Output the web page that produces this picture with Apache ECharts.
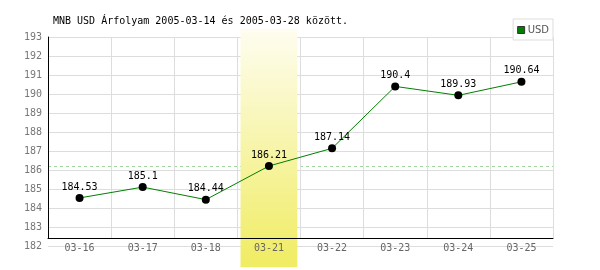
<!DOCTYPE html>
<html>
<head>
<meta charset="utf-8">
<script src="https://cdn.jsdelivr.net/npm/echarts@6/dist/echarts.min.js"></script>
<style>html,body{margin:0;padding:0;background:#fff}#c{width:600px;height:270px}</style>
</head>
<body>
<div id="c"></div>
<script>
var titleText = 'MNB USD Árfolyam 2005-03-14 és 2005-03-28 között.';
var seriesName = 'USD';
var categories = ['03-16', '03-17', '03-18', '03-21', '03-22', '03-23', '03-24', '03-25'];
var values = [184.53, 185.1, 184.44, 186.21, 187.14, 190.4, 189.93, 190.64];
var highlightCategory = '03-21';
var referenceValue = 186.21;
var yMin = 182, yMax = 193, yStep = 1;

var bandData = categories.map(function (c) { return c === highlightCategory ? 1 : '-'; });
var mono = 'DejaVu Sans Mono';
var L = 48, W = 505;

var chart = echarts.init(document.getElementById('c'), null, {renderer: 'canvas'});
chart.setOption({
  animation: false,
  backgroundColor: '#fff',
  title: {
    text: titleText, left: 53, top: 16, padding: 0,
    textStyle: {fontFamily: mono, fontSize: 10, fontWeight: 'normal', color: '#000'}
  },
  legend: {
    data: [{name: seriesName, icon: 'rect'}],
    right: 47, top: 19, padding: [6, 4, 5, 4], itemWidth: 7, itemHeight: 7, itemGap: 4,
    borderColor: '#ddd', borderWidth: 1, backgroundColor: '#fff', z: 10,
    itemStyle: {color: '#008000', borderColor: '#333', borderWidth: 1},
    textStyle: {fontFamily: 'DejaVu Sans', fontSize: 10, color: '#555', padding: [0, 0, 0, -2]}
  },
  grid: [
    {left: L, width: W, top: 37, height: 209},
    {left: L, width: W, top: 37, height: 201},
    {left: L, width: W, top: 29, height: 238}
  ],
  xAxis: [
    {gridIndex: 0, type: 'category', data: categories, axisLine: {show: false}, axisTick: {show: false}, axisLabel: {show: false}, splitLine: {show: false}},
    {gridIndex: 1, type: 'category', data: categories, z: 6,
      axisLine: {show: true, lineStyle: {color: '#000', width: 1}}, axisTick: {show: false},
      axisLabel: {show: true, margin: 5, fontFamily: mono, fontSize: 10, color: '#666'},
      splitLine: {show: true, lineStyle: {color: '#ddd', width: 1}}},
    {gridIndex: 2, type: 'category', data: categories, show: false}
  ],
  yAxis: [
    {gridIndex: 0, type: 'value', min: yMin, max: yMax, interval: yStep, z: 0,
      axisLine: {show: false}, axisTick: {show: false},
      axisLabel: {margin: 6, fontFamily: mono, fontSize: 10, color: '#777'},
      splitLine: {show: true, lineStyle: {color: '#ddd', width: 1}}},
    {gridIndex: 1, type: 'value', min: 0, max: 1, z: 6,
      axisLine: {show: true, lineStyle: {color: '#000', width: 1}}, axisTick: {show: false},
      axisLabel: {show: false}, splitLine: {show: false}},
    {gridIndex: 2, type: 'value', min: 0, max: 1, show: false}
  ],
  series: [
    {
      type: 'bar', xAxisIndex: 2, yAxisIndex: 2, data: bandData, barWidth: '90%', z: 1, silent: true,
      itemStyle: {color: new echarts.graphic.LinearGradient(0, 0, 0, 1, [
        {offset: 0, color: '#fefdf0'}, {offset: 1, color: '#f0ec62'}])}
    },
    {
      name: seriesName, type: 'line', xAxisIndex: 0, yAxisIndex: 0, data: values, z: 8,
      symbol: 'circle', symbolSize: 8,
      itemStyle: {color: '#000'},
      lineStyle: {color: '#008000', width: 1},
      label: {show: true, position: 'top', distance: 2, fontFamily: mono, fontSize: 10, color: '#000'},
      markLine: {
        silent: true, symbol: 'none', label: {show: false}, z: 0,
        lineStyle: {color: '#9fd49f', type: [3, 3], width: 1},
        data: [{yAxis: referenceValue}]
      }
    }
  ]
});
</script>
</body>
</html>
